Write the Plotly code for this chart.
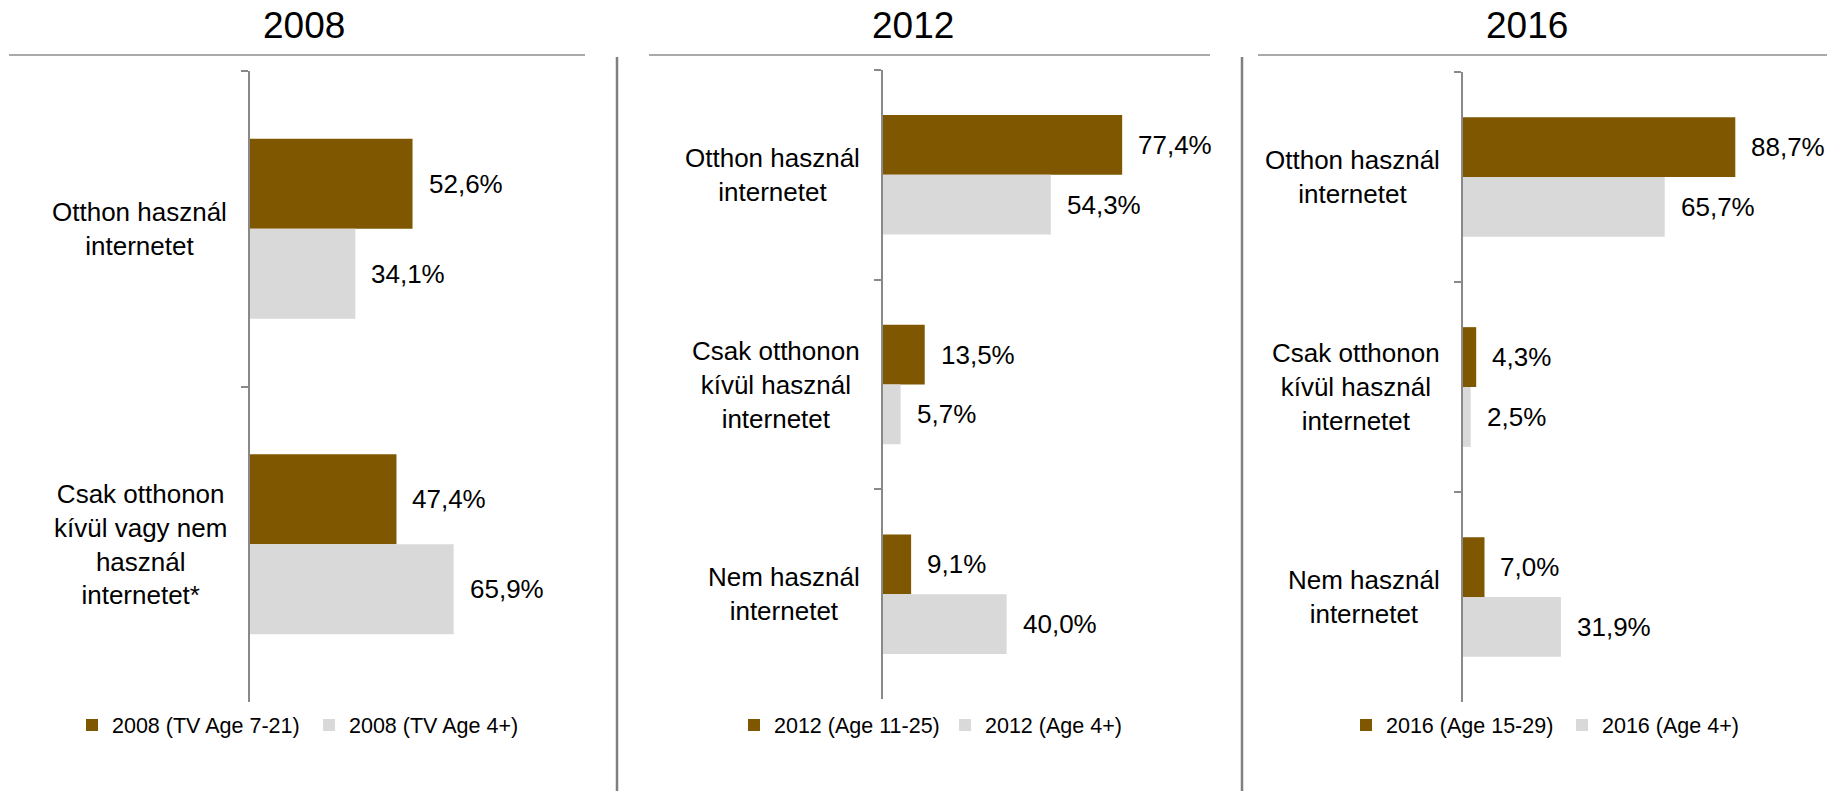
import plotly.graph_objects as go

# ---- data -----------------------------------------------------------------
years = ["2008", "2012", "2016"]

cats_2008 = ["Otthon használ<br>internetet",
             "Csak otthonon<br>kívül vagy nem<br>használ<br>internetet*"]
cats_2012 = ["Otthon használ<br>internetet",
             "Csak otthonon<br>kívül használ<br>internetet",
             "Nem használ<br>internetet"]
cats_2016 = ["Otthon használ<br>internetet",
             "Csak otthonon<br>kívül használ<br>internetet",
             "Nem használ<br>internetet"]

young_2008 = [52.6, 47.4]
all_2008 = [34.1, 65.9]
young_2012 = [77.4, 13.5, 9.1]
all_2012 = [54.3, 5.7, 40.0]
young_2016 = [88.7, 4.3, 7.0]
all_2016 = [65.7, 2.5, 31.9]

series_young = ["2008 (TV Age 7-21)", "2012 (Age 11-25)", "2016 (Age 15-29)"]
series_all = ["2008 (TV Age 4+)", "2012 (Age 4+)", "2016 (Age 4+)"]

# ---- styling / layout geometry -------------------------------------------
W, H = 1827, 791
BROWN = "#7F5700"
LIGHT = "#D9D9D9"
AXIS = "#898989"
FONT = "Arial, Liberation Sans, sans-serif"
BARGAP = 0.43

# axis start (px), x extent (px), y top/bottom (px) for each panel
panel_px = [
    dict(x0=250, x1=559, yt=71, yb=702),
    dict(x0=883, x1=1192, yt=70, yb=699),
    dict(x0=1463, x1=1770, yt=72, yb=702),
]
title_x = [304, 913, 1527]
title_lines = [(9, 585), (649, 1210), (1258, 1827)]
dividers = [617, 1242]
legend_x = [72, 734, 1346]
legend_entry = [192, 166, 171]

panels = [
    (cats_2008, young_2008, all_2008),
    (cats_2012, young_2012, all_2012),
    (cats_2016, young_2016, all_2016),
]

fig = go.Figure()
annotations = []
shapes = []

for i, (cats, young, allv) in enumerate(panels):
    k = "" if i == 0 else str(i + 1)
    xa, ya = "x" + k, "y" + k
    lg = "legend" + k
    p = panel_px[i]

    fig.add_trace(go.Bar(
        y=cats, x=young, orientation="h", name=series_young[i],
        marker=dict(color=BROWN, line=dict(width=0)),
        xaxis=xa, yaxis=ya, legend=lg, hoverinfo="x+name",
    ))
    fig.add_trace(go.Bar(
        y=cats, x=allv, orientation="h", name=series_all[i],
        marker=dict(color=LIGHT, line=dict(width=0)),
        xaxis=xa, yaxis=ya, legend=lg, hoverinfo="x+name",
    ))

    fig.update_layout({
        "xaxis" + k: dict(domain=[p["x0"] / W, p["x1"] / W], range=[0, 100],
                         visible=False, anchor=ya, fixedrange=True),
        "yaxis" + k: dict(domain=[1 - p["yb"] / H, 1 - p["yt"] / H],
                         type="category", categoryarray=cats,
                         autorange="reversed", anchor=xa,
                         showline=True, linecolor=AXIS, linewidth=2,
                         ticks="outside", ticklen=7, tickcolor=AXIS,
                         tickwidth=2, tickson="boundaries",
                         showticklabels=False, showgrid=False,
                         zeroline=False, fixedrange=True),
        lg: dict(orientation="h", x=legend_x[i] / W, xanchor="left",
                 y=1 - 725 / H, yanchor="middle",
                 entrywidth=legend_entry[i], entrywidthmode="pixels",
                 font=dict(family=FONT, size=21.5, color="#000"),
                 bgcolor="rgba(0,0,0,0)", itemclick=False,
                 itemdoubleclick=False),
    })

    # half-bar offset in px for the value labels
    band = (p["yb"] - p["yt"]) / len(cats)
    off = band * (1 - BARGAP) / 4

    for c, v1, v2 in zip(cats, young, allv):
        for v, sh in ((v1, off), (v2, -off)):
            annotations.append(dict(
                x=v, y=c, xref=xa, yref=ya, xanchor="left", yanchor="middle",
                xshift=14, yshift=sh, showarrow=False,
                text=f"{v:.1f}%".replace(".", ","),
                font=dict(family=FONT, size=26, color="#000"),
            ))
        annotations.append(dict(
            x=(p["x0"] - 21) / W, y=c, xref="paper", yref=ya,
            xanchor="right", yanchor="middle", align="center",
            showarrow=False, text=c,
            font=dict(family=FONT, size=26, color="#000"),
        ))

    annotations.append(dict(
        x=title_x[i] / W, y=1 - 25 / H, xref="paper", yref="paper",
        xanchor="center", yanchor="middle", showarrow=False,
        text=years[i], font=dict(family=FONT, size=37, color="#000"),
    ))
    lx0, lx1 = title_lines[i]
    shapes.append(dict(type="line", xref="paper", yref="paper",
                       x0=lx0 / W, x1=lx1 / W, y0=1 - 55 / H, y1=1 - 55 / H,
                       line=dict(color="#AAAAAA", width=2)))

for dx in dividers:
    shapes.append(dict(type="line", xref="paper", yref="paper",
                       x0=dx / W, x1=dx / W, y0=0, y1=1 - 57 / H,
                       line=dict(color="#808080", width=2.5)))

fig.update_layout(
    width=W, height=H,
    margin=dict(l=0, r=0, t=0, b=0),
    paper_bgcolor="white", plot_bgcolor="white",
    barmode="group", bargap=BARGAP, bargroupgap=0,
    separators=", ",
    font=dict(family=FONT, color="#000"),
    annotations=annotations, shapes=shapes,
)

fig.write_html("out.html", config={"displayModeBar": False})
